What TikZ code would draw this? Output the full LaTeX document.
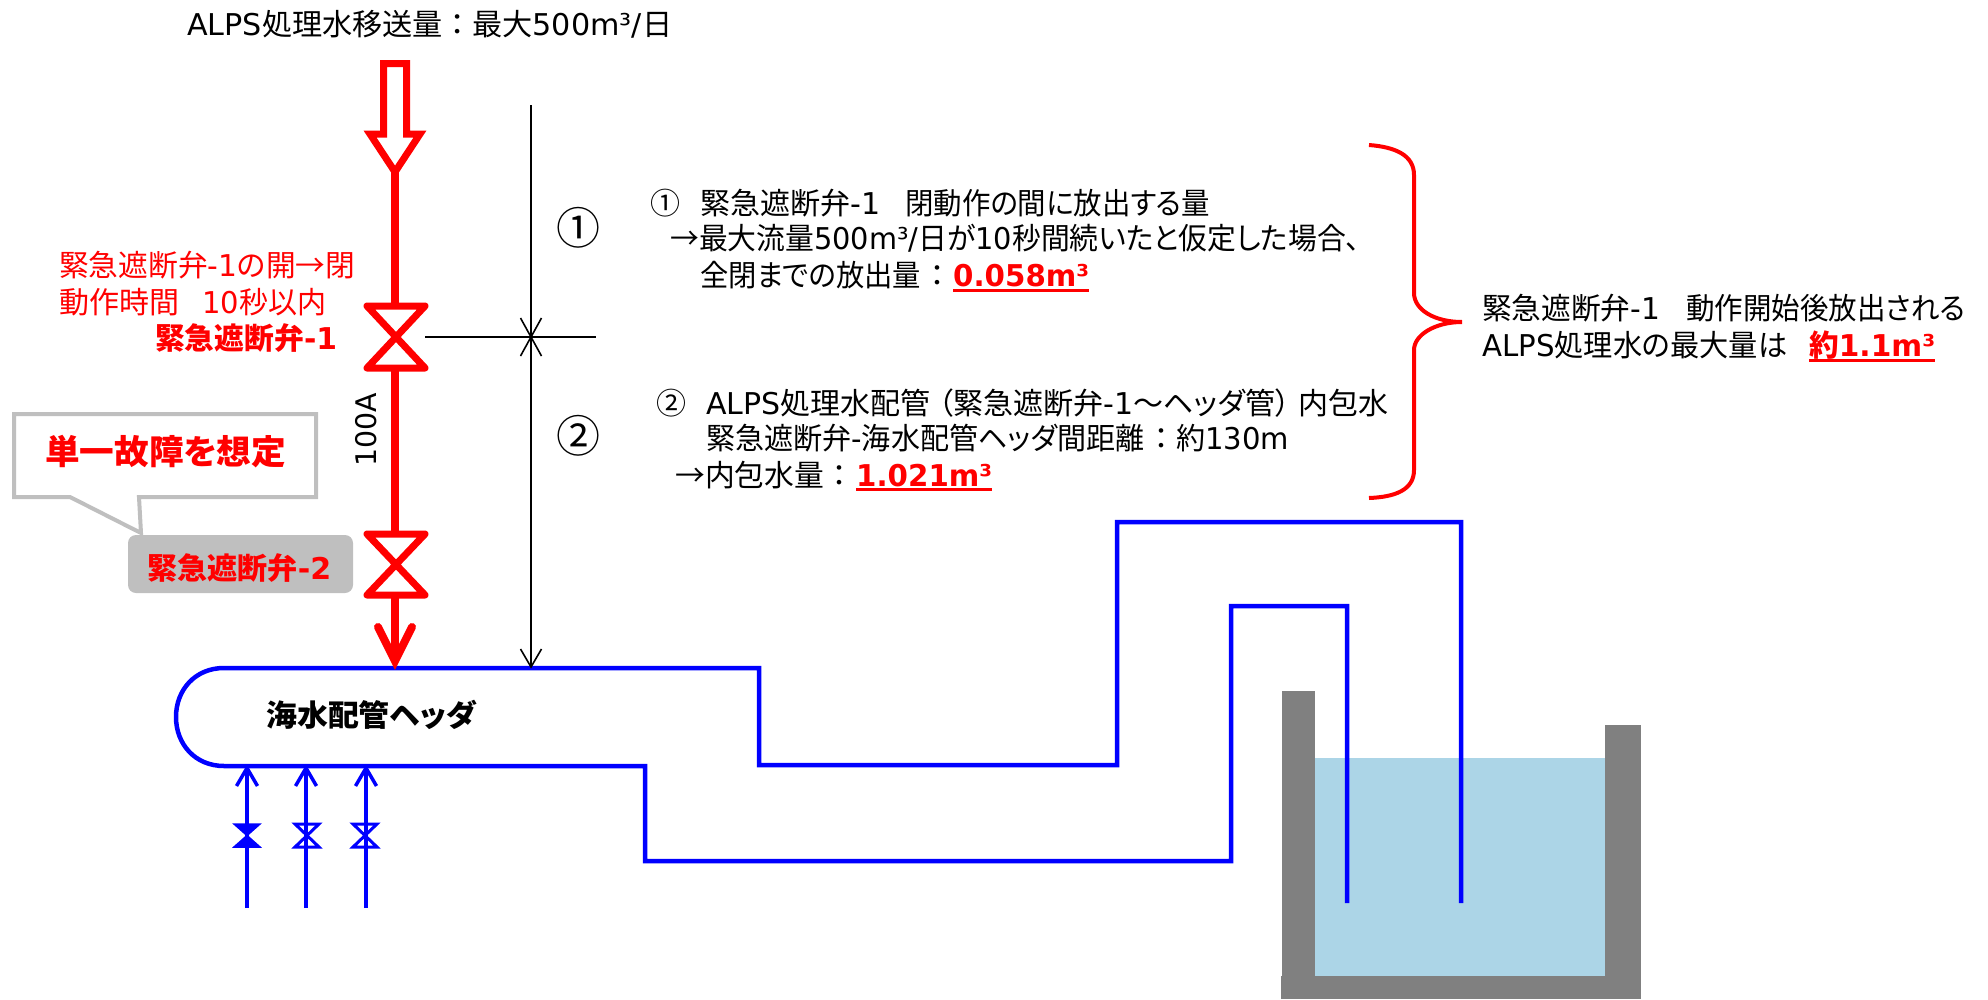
\documentclass[tikz,border=0pt]{standalone}
\usepackage{fontspec}
\usepackage{graphicx}
\setmainfont{Noto Sans CJK JP}[RawFeature={+palt}]
\newfontfamily\lat{DejaVu Sans}
\newcommand\la[1]{{\lat #1}}
\newcommand\fit[2]{\resizebox{#1pt}{\height}{#2}}
\definecolor{purered}{RGB}{255,0,0}
\definecolor{pureblue}{RGB}{0,0,255}
\definecolor{tankgray}{RGB}{128,128,128}
\definecolor{water}{RGB}{172,213,231}
\definecolor{calloutgray}{RGB}{191,191,191}
\tikzset{
  txt/.style={inner sep=0pt,anchor=base west,font=\fontsize{30}{36}\selectfont},
  midtxt/.style={inner sep=0pt,anchor=base,font=\fontsize{30}{36}\selectfont},
  redtxt/.style={txt,text=purered},
  redbold/.style={txt,text=purered,font=\fontsize{30}{36}\selectfont\bfseries},
  redpipe/.style={draw=purered,line width=7.5pt},
  redvalve/.style={draw=purered,line width=7pt,line join=round},
  redhollow/.style={draw=purered,line width=7pt,line join=miter},
  redbarb/.style={draw=purered,line width=8pt,line cap=round,line join=miter},
  bluepipe/.style={draw=pureblue,line width=4.5pt,line join=miter},
  bluestub/.style={draw=pureblue,line width=4pt},
  bluebarb/.style={draw=pureblue,line width=3.5pt},
  bluevalve/.style={draw=pureblue,line width=3pt},
  dim/.style={draw=black,line width=1.8pt},
  dimbarb/.style={draw=black,line width=1.6pt},
  redunder/.style={draw=purered,line width=3pt},
}
\begin{document}
\begin{tikzpicture}[x=1pt,y=-1pt]
\useasboundingbox (0,0) rectangle (1988,999);
% tank
\fill[water] (1315,758) rectangle (1605,976);
\fill[tankgray] (1282,691) rectangle (1315,980);
\fill[tankgray] (1605,725) rectangle (1641,980);
\fill[tankgray] (1281,976) rectangle (1641,999);

% header and discharge pipes
\coordinate (hTL) at (224,668);
\coordinate (hBL) at (224,766);
\coordinate (hTR) at (759,668);
\coordinate (hBR) at (645,766);
\draw[bluepipe] (1461,903) -- (1461,522) -- (1117,522) -- (1117,765) -- (759,765) -- (hTR) -- (hTL)
  .. controls (195,668) and (176,690) .. (176,717)
  .. controls (176,744) and (195,766) .. (hBL) -- (hBR) -- (645,861) -- (1231,861) -- (1231,606) -- (1347,606) -- (1347,903);

% red line with hollow arrow
\coordinate (tip) at (395,172);
\coordinate (v1) at (395,337);
\coordinate (v2) at (395,565);
\draw[redhollow] (383.5,134) -- (383.5,63.5) -- (406.5,63.5) -- (406.5,134) -- (420,134) -- (tip) -- (370,134) -- cycle;
\draw[redpipe] (tip) -- (395,306);
\draw[redpipe] (395,368) -- (395,534);
\draw[redpipe] (395,595) -- (395,660);
\draw[redvalve] (367,306) -- (425,306) -- (367,368) -- (425,368) -- cycle;
\draw[redvalve] (367,534) -- (425,534) -- (367,595) -- (425,595) -- cycle;
\draw[redbarb] (378,627) -- (395,661) -- (412,627);

% dimension lines
\coordinate (dTop) at (531,105);
\coordinate (dMid) at (531,337);
\coordinate (dBot) at (531,667);
\draw[dim] (dTop) -- (dMid);
\draw[dim] (dMid) -- (dBot);
\draw[draw=black,line width=2.5pt] (425,337) -- (596,337);
\draw[dimbarb] (520.5,318) -- (dMid) -- (541.5,318);
\draw[dimbarb] (520.5,356) -- (dMid) -- (541.5,356);
\draw[dimbarb] (520.5,649) -- (dBot) -- (541.5,649);

% blue inlet stubs
\foreach \n/\xx in {a/247,b/306,c/366}{
  \coordinate (s\n) at (\xx,908);
  \coordinate (t\n) at (\xx,768);
  \draw[bluestub] (s\n) -- (t\n);
  \draw[bluebarb] (\xx-10.5,786) -- (t\n) -- (\xx+10.5,786);
}
\fill[pureblue,draw=pureblue,line width=1.5pt] (234,824) -- (260,824) -- (234,847) -- (260,847) -- cycle;
\draw[bluevalve] (295,824) -- (319,824) -- (295,847) -- (319,847) -- cycle;
\draw[bluevalve] (353,824) -- (377,824) -- (353,847) -- (377,847) -- cycle;

% brace
\draw[draw=purered,line width=4pt] (1369,145) .. controls (1395,147) and (1414,155) .. (1414,175) -- (1414,293)
  .. controls (1414,310) and (1435,322) .. (1462,322)
  .. controls (1435,322) and (1414,335) .. (1414,350) -- (1414,470)
  .. controls (1414,490) and (1395,497) .. (1369,498);

% callout and grey tag
\draw[draw=calloutgray,line width=4pt,fill=white] (14,414) -- (316,414) -- (316,497) -- (139,497) -- (141,533) -- (70,497) -- (14,497) -- cycle;
\node[fill=calloutgray,rounded corners=8pt,minimum width=225pt,minimum height=58pt,inner sep=0pt] (tag) at (240.5,564) {};

% texts
\node[txt] (title) at (187,35) {\fit{485}{\la{ALPS}処理水移送量\hspace{7pt}：\hspace{7pt}最大\la{500m³/}日}};
\node[redtxt] (t1a) at (59,276) {\fit{296}{緊急遮断弁\la{-1}の開→閉}};
\node[redtxt] (t1b) at (59,313) {動作時間};
\node[redtxt] (t1c) at (202,313) {\fit{124}{\la{10}秒以内}};
\node[redbold] (t1d) at (155,349) {\fit{182}{緊急遮断弁\la{-1}}};
\node[inner sep=0pt,rotate=90,font=\fontsize{28.4}{32}\selectfont\lat] (pipe) at (366,430) {100A};
\node[redtxt,font=\fontsize{34}{40}\selectfont\bfseries] (fail) at (45,464) {\fit{241}{単一故障を想定}};
\node[redbold] (t2) at (147,579) {\fit{184}{緊急遮断弁\la{-2}}};
\node[txt,font=\fontsize{30}{36}\selectfont\bfseries] (hdr) at (266,726) {\fit{210}{海水配管ヘッダ}};
\node[inner sep=0pt,font=\fontsize{44}{50}\selectfont] (n1) at (578,228) {①};
\node[inner sep=0pt,font=\fontsize{44}{50}\selectfont] (n2) at (578,436) {②};

\node[txt] (l1a) at (650,214) {①};
\node[txt] (l1b) at (700,214) {\fit{180}{緊急遮断弁\la{-1}}};
\node[txt] (l1c) at (905,214) {\fit{305}{閉動作の間に放出する量}};
\node[txt] (l2) at (670,249) {\fit{690}{→最大流量\la{500m³/}日が\la{10}秒間続いたと仮定した場合、}};
\node[txt] (l3) at (700,286) {\fit{221}{全閉までの放出量}};
\node[midtxt] (l3c) at (937,286) {：};
\node[redbold] (r1) at (953,286) {\fit{136}{\la{0.058m³}}};
\draw[redunder] (953,290) -- (1089,290);

\node[txt] (l4a) at (656,414) {②};
\node[txt] (l4b) at (706,414) {\fit{682}{\la{ALPS}処理水配管\hspace{8pt}（緊急遮断弁\la{-1}～ヘッダ管）\hspace{8pt}内包水}};
\node[txt] (l5) at (706,449) {\fit{438}{緊急遮断弁\la{-}海水配管ヘッダ間距離}};
\node[midtxt] (l5c) at (1161,449) {：};
\node[txt] (l5d) at (1176,449) {\fit{113}{約\la{130m}}};
\node[txt] (l6) at (675,486) {\fit{149}{→内包水量}};
\node[midtxt] (l6c) at (839,486) {：};
\node[redbold] (r2) at (856,486) {\fit{136}{\la{1.021m³}}};
\draw[redunder] (856,489) -- (992,489);

\node[txt] (s1a) at (1482,319) {\fit{178}{緊急遮断弁\la{-1}}};
\node[txt] (s1b) at (1686,319) {\fit{279}{動作開始後放出される}};
\node[txt] (s2) at (1482,356) {\fit{305}{\la{ALPS}処理水の最大量は}};
\node[redbold] (r3) at (1809,356) {\fit{126}{約\la{1.1m³}}};
\draw[redunder] (1809,360) -- (1935,360);
\end{tikzpicture}
\end{document}
